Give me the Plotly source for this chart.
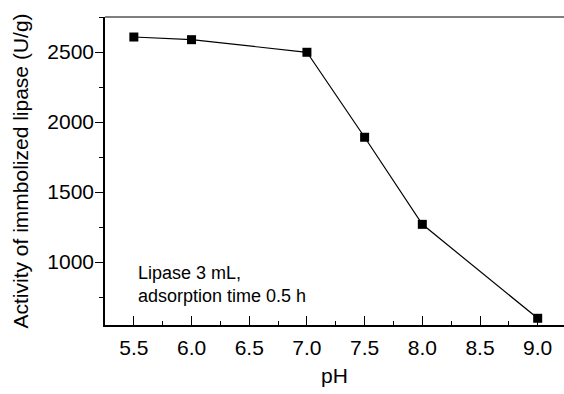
import plotly.graph_objects as go

ph = [5.5, 6.0, 7.0, 7.5, 8.0, 9.0]
activity = [2607, 2588, 2498, 1891, 1269, 598]
x_ticks = [5.5, 6.0, 6.5, 7.0, 7.5, 8.0, 8.5, 9.0]
x_tick_labels = ["5.5", "6.0", "6.5", "7.0", "7.5", "8.0", "8.5", "9.0"]
y_ticks = [1000, 1500, 2000, 2500]
y_tick_labels = ["1000", "1500", "2000", "2500"]

FONT = "Liberation Sans, Arial, sans-serif"

fig = go.Figure()
fig.add_trace(go.Scatter(
    x=ph, y=activity, mode="lines+markers",
    line=dict(color="black", width=1.2),
    marker=dict(symbol="square", size=9, color="black"),
    showlegend=False,
))

fig.update_layout(
    width=564, height=394,
    margin=dict(l=105, r=0, t=17, b=69),
    paper_bgcolor="white", plot_bgcolor="white",
    font=dict(family=FONT, color="black", size=21),
    xaxis=dict(
        range=[5.25, 9.228], tickvals=x_ticks, ticktext=x_tick_labels,
        ticks="inside", ticklen=9, tickwidth=1, tickcolor="black",
        minor=dict(dtick=0.25, tick0=5.25, ticks="inside", ticklen=4, tickcolor="black"),
        showline=True, linecolor="black", linewidth=1.5,
        showgrid=False, zeroline=False,
        tickfont=dict(size=21),
        title=dict(text="pH", font=dict(size=21), standoff=10),
        ticklabelstandoff=3,
    ),
    yaxis=dict(
        range=[550, 2750], tickvals=y_ticks, ticktext=y_tick_labels,
        ticks="outside", ticklen=8, tickwidth=1, tickcolor="black",
        minor=dict(dtick=250, tick0=0, ticks="outside", ticklen=4, tickcolor="black"),
        showline=True, linecolor="black", linewidth=1.5,
        showgrid=False, zeroline=False,
        tickfont=dict(size=21),
        ticklabelstandoff=-3,
        title=dict(text="Activity of immbolized lipase (U/g)", font=dict(size=21), standoff=13),
    ),
    shapes=[dict(type="line", xref="paper", yref="paper", x0=0, x1=1, y0=1, y1=1,
                 line=dict(color="#555555", width=1.5))],
    annotations=[dict(
        text="Lipase 3 mL,<br>adsorption time 0.5 h",
        xref="x", yref="y", x=5.52, y=1010, xanchor="left", yanchor="top",
        showarrow=False, align="left", font=dict(size=18, family=FONT),
    )],
)

fig.write_html("out.html")
